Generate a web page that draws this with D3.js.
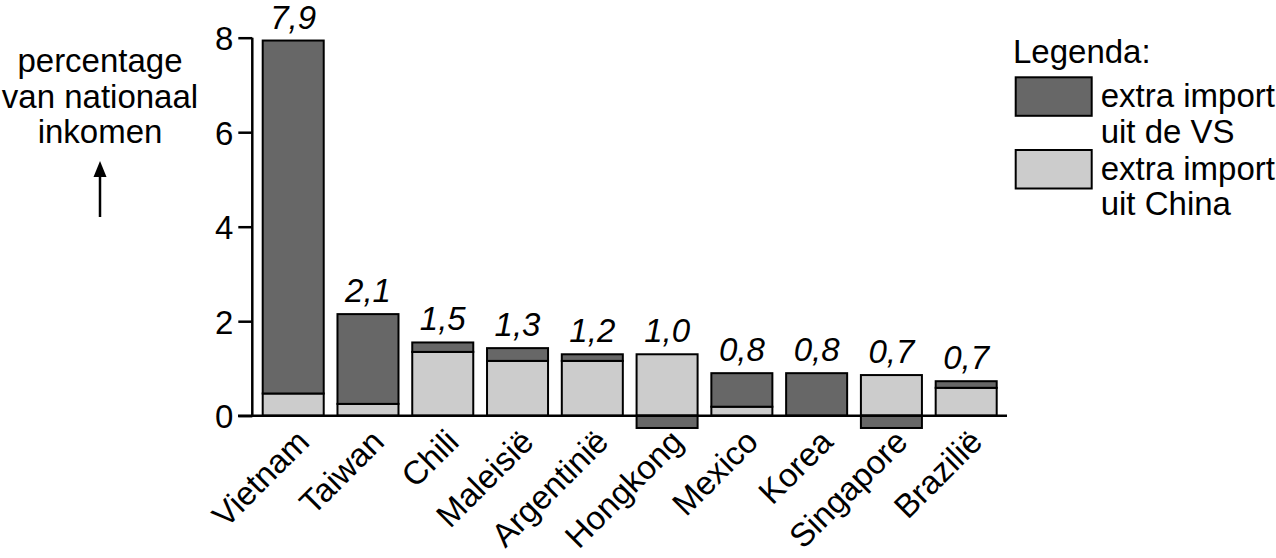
<!DOCTYPE html>
<html><head><meta charset="utf-8">
<script src="https://cdn.jsdelivr.net/npm/d3@7"></script>
<style>
html,body{margin:0;padding:0;background:#fff;}
svg text{font-family:"Liberation Sans",Arial,Helvetica,sans-serif;fill:#000;}
</style>
</head><body>
<svg id="chart" width="1276" height="558"></svg>
<script>
const countries = ["Vietnam","Taiwan","Chili","Maleisië","Argentinië","Hongkong","Mexico","Korea","Singapore","Brazilië"];
const chinaImport = [0.47, 0.25, 1.35, 1.16, 1.16, 1.30, 0.19, 0.00, 0.86, 0.59];
const usImport    = [7.47, 1.90, 0.20, 0.27, 0.14, -0.26, 0.71, 0.90, -0.26, 0.14];
const totalLabels = ["7,9","2,1","1,5","1,3","1,2","1,0","0,8","0,8","0,7","0,7"];
const yTicks = [0, 2, 4, 6, 8];
const yTitle = ["percentage", "van nationaal", "inkomen"];
const legendTitle = "Legenda:";
const legendItems = [
  {lines:["extra import","uit de VS"], key:"us"},
  {lines:["extra import","uit China"], key:"china"}
];
const colors = {us:"#676767", china:"#cccccc"};
const FS = 33;

const svg = d3.select("#chart");
const x = d3.scaleBand().domain(countries).range([262.7, 996.7]).paddingInner(0.184).paddingOuter(0);
const y = d3.scaleLinear().domain([0, 8]).range([415.7, 37.7]);

const rows = countries.map((c,i)=>({c, china:chinaImport[i], us:usImport[i], label:totalLabels[i]}));

// bars
const g = svg.append("g");
rows.forEach(d=>{
  if (d.china > 0) {
    g.append("rect").attr("x", x(d.c)).attr("width", x.bandwidth())
      .attr("y", y(d.china)).attr("height", y(0)-y(d.china))
      .attr("fill", colors.china).attr("stroke","#000").attr("stroke-width",2);
  }
  if (d.us > 0) {
    g.append("rect").attr("x", x(d.c)).attr("width", x.bandwidth())
      .attr("y", y(d.china+d.us)).attr("height", y(d.china)-y(d.china+d.us))
      .attr("fill", colors.us).attr("stroke","#000").attr("stroke-width",2);
  } else if (d.us < 0) {
    g.append("rect").attr("x", x(d.c)).attr("width", x.bandwidth())
      .attr("y", y(0)).attr("height", y(d.us)-y(0))
      .attr("fill", colors.us).attr("stroke","#000").attr("stroke-width",2);
  }
  const top = Math.max(d.china, d.china + Math.max(d.us,0));
  g.append("text").attr("x", x(d.c)+x.bandwidth()/2).attr("y", y(top)-12)
    .attr("text-anchor","middle").attr("font-size",FS).attr("font-style","italic")
    .text(d.label);
});

// y axis
const yAxis = svg.append("g").attr("transform","translate(252.3,0)")
  .call(d3.axisLeft(y).tickValues(yTicks).tickSize(14).tickPadding(5).tickFormat(d3.format("d")));
yAxis.select(".domain").attr("stroke","#000").attr("stroke-width",2.5).attr("d", `M0,${y(8)}V${y(0)}`);
yAxis.selectAll(".tick line").attr("stroke","#000").attr("stroke-width",2.5);
yAxis.selectAll(".tick text").attr("font-size",FS).attr("font-family","Liberation Sans, Arial, sans-serif").attr("fill","#000").attr("dy","0.36em");

// x axis line
svg.append("line").attr("x1",238).attr("x2",1007).attr("y1",y(0)).attr("y2",y(0))
  .attr("stroke","#000").attr("stroke-width",2.5);

// x labels
rows.forEach(d=>{
  const cx = x(d.c)+x.bandwidth()/2;
  svg.append("text").attr("transform",`translate(${cx+18},${y(0)+28}) rotate(-45)`)
    .attr("text-anchor","end").attr("font-size",FS).text(d.c);
});

// y title
yTitle.forEach((t,i)=>{
  svg.append("text").attr("x",100).attr("y",71.7+i*35.8).attr("text-anchor","middle")
    .attr("font-size",FS).text(t);
});
svg.append("line").attr("x1",100).attr("x2",100).attr("y1",172).attr("y2",217)
  .attr("stroke","#000").attr("stroke-width",2.5);
svg.append("path").attr("d","M100,161 L93.5,177 L106.5,177 Z").attr("fill","#000");

// legend
svg.append("text").attr("x",1013).attr("y",62.7).attr("font-size",FS).text(legendTitle);
legendItems.forEach((it,i)=>{
  const top = 77.3 + i*72.7;
  svg.append("rect").attr("x",1015.7).attr("y",top).attr("width",76).attr("height",38.5)
    .attr("fill",colors[it.key]).attr("stroke","#000").attr("stroke-width",2);
  it.lines.forEach((l,j)=>{
    svg.append("text").attr("x",1100.7).attr("y",top+30+j*35.2).attr("font-size",FS).text(l);
  });
});
</script>
</body></html>
